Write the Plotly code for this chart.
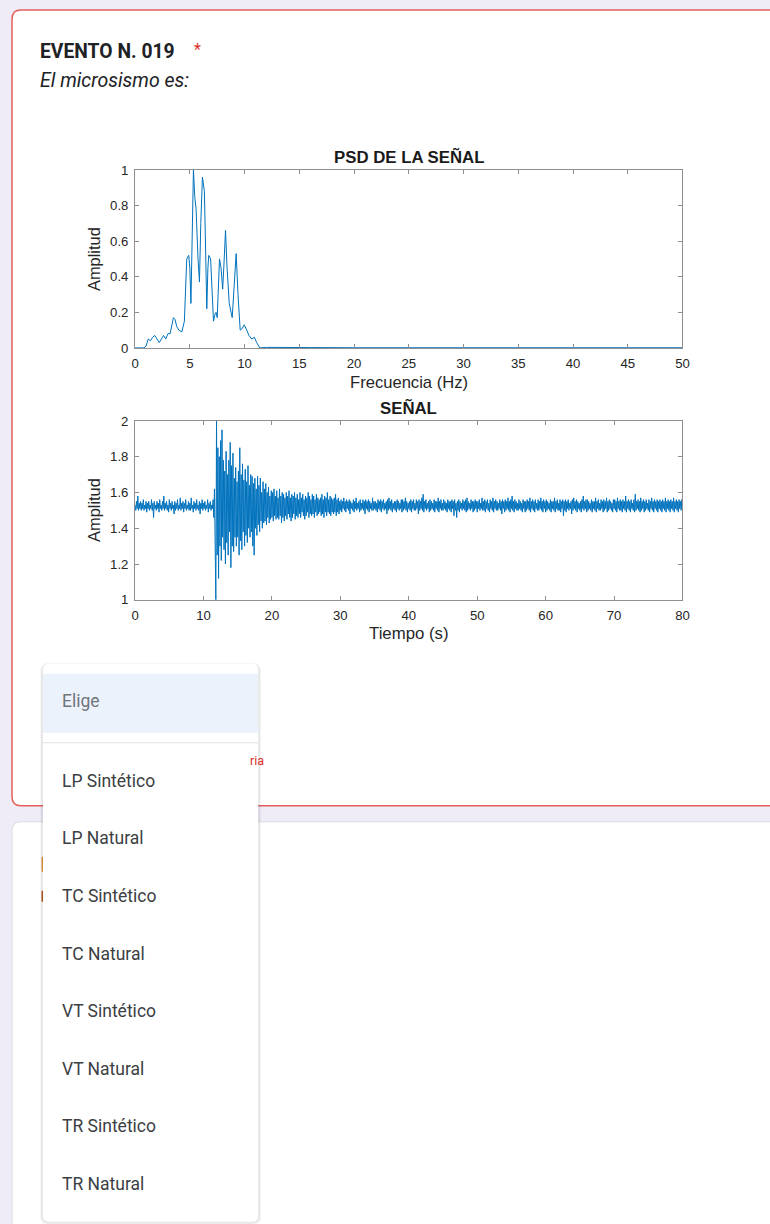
import plotly.graph_objects as go

W, H = 770, 1224

# ---------------- data ----------------
psd_freq = [0.0, 0.8, 1.0, 1.2, 1.4, 1.6, 1.8, 2.0, 2.2, 2.4, 2.6, 2.8, 3.0, 3.2, 3.35, 3.5, 3.65, 3.8,
            4.0, 4.27, 4.5, 4.72, 4.9, 5.0, 5.1, 5.2, 5.33, 5.45, 5.57, 5.75, 5.88, 6.0, 6.15, 6.33,
            6.45, 6.55, 6.65, 6.73, 6.9, 7.05, 7.16, 7.3, 7.4, 7.5, 7.6, 7.71, 7.85, 8.0, 8.1, 8.26,
            8.4, 8.6, 8.87, 9.05, 9.23, 9.4, 9.6, 9.8, 9.97, 10.2, 10.4, 10.66, 10.9, 11.1, 11.4,
            12.0, 13.0, 15.0, 16.0, 20.0, 25.0, 30.0, 40.0, 50.0]
psd_amp = [0.0, 0.0, 0.01, 0.05, 0.04, 0.06, 0.07, 0.05, 0.03, 0.05, 0.07, 0.05, 0.08, 0.08, 0.12, 0.17, 0.16, 0.12,
           0.10, 0.09, 0.15, 0.50, 0.52, 0.45, 0.25, 0.70, 1.00, 0.85, 0.78, 0.50, 0.37, 0.70, 0.96, 0.88,
           0.45, 0.22, 0.45, 0.52, 0.50, 0.25, 0.15, 0.19, 0.20, 0.17, 0.35, 0.50, 0.45, 0.33, 0.45, 0.66,
           0.45, 0.25, 0.17, 0.35, 0.53, 0.30, 0.10, 0.11, 0.13, 0.10, 0.07, 0.05, 0.06, 0.03, 0.0,
           0.003, 0.002, 0.003, 0.002, 0.001, 0.001, 0.001, 0.001, 0.001]

sample_step = 0.1  # seconds between samples of the trace below (one row = 1 s)
signal_amp = [
    1.53, 1.50, 1.55, 1.51, 1.58, 1.50, 1.54, 1.51, 1.55, 1.50,
    1.54, 1.51, 1.56, 1.50, 1.53, 1.51, 1.55, 1.49, 1.54, 1.51,
    1.55, 1.50, 1.53, 1.51, 1.56, 1.50, 1.54, 1.46, 1.55, 1.51,
    1.53, 1.50, 1.55, 1.51, 1.54, 1.49, 1.56, 1.51, 1.53, 1.50,
    1.55, 1.51, 1.58, 1.50, 1.54, 1.51, 1.55, 1.50, 1.53, 1.49,
    1.56, 1.51, 1.54, 1.50, 1.55, 1.51, 1.53, 1.48, 1.55, 1.50,
    1.54, 1.51, 1.56, 1.50, 1.53, 1.51, 1.57, 1.50, 1.54, 1.51,
    1.55, 1.49, 1.54, 1.51, 1.56, 1.50, 1.53, 1.51, 1.55, 1.50,
    1.54, 1.50, 1.57, 1.51, 1.53, 1.49, 1.55, 1.51, 1.54, 1.50,
    1.56, 1.51, 1.53, 1.50, 1.55, 1.48, 1.54, 1.51, 1.56, 1.50,
    1.54, 1.51, 1.55, 1.50, 1.53, 1.51, 1.56, 1.49, 1.54, 1.51,
    1.55, 1.50, 1.53, 1.51, 1.56, 1.46, 1.62, 1.38, 1.00, 2.00,
    1.25, 1.85, 1.12, 1.80, 1.30, 1.89, 1.22, 1.95, 1.35, 1.78,
    1.28, 1.72, 1.20, 1.83, 1.32, 1.70, 1.25, 1.78, 1.38, 1.88,
    1.18, 1.75, 1.30, 1.82, 1.27, 1.68, 1.35, 1.74, 1.30, 1.66,
    1.35, 1.72, 1.25, 1.85, 1.33, 1.70, 1.28, 1.76, 1.38, 1.67,
    1.30, 1.73, 1.36, 1.66, 1.32, 1.75, 1.40, 1.64, 1.35, 1.70,
    1.38, 1.69, 1.30, 1.65, 1.25, 1.68, 1.40, 1.62, 1.36, 1.69,
    1.42, 1.64, 1.38, 1.68, 1.44, 1.60, 1.40, 1.66, 1.43, 1.62,
    1.44, 1.65, 1.42, 1.60, 1.46, 1.63, 1.43, 1.58, 1.45, 1.61,
    1.46, 1.60, 1.44, 1.62, 1.47, 1.58, 1.45, 1.61, 1.46, 1.57,
    1.45, 1.62, 1.47, 1.58, 1.43, 1.60, 1.46, 1.59, 1.44, 1.57,
    1.47, 1.60, 1.45, 1.58, 1.48, 1.61, 1.46, 1.57, 1.44, 1.59,
    1.46, 1.58, 1.48, 1.60, 1.45, 1.57, 1.47, 1.59, 1.46, 1.56,
    1.48, 1.60, 1.46, 1.57, 1.49, 1.59, 1.47, 1.56, 1.45, 1.58,
    1.47, 1.57, 1.49, 1.60, 1.46, 1.58, 1.48, 1.56, 1.47, 1.59,
    1.48, 1.58, 1.46, 1.56, 1.49, 1.59, 1.47, 1.57, 1.48, 1.56,
    1.49, 1.57, 1.47, 1.59, 1.48, 1.56, 1.46, 1.58, 1.49, 1.57,
    1.47, 1.60, 1.49, 1.56, 1.48, 1.58, 1.47, 1.57, 1.49, 1.56,
    1.48, 1.57, 1.49, 1.59, 1.47, 1.56, 1.49, 1.57, 1.48, 1.55,
    1.50, 1.56, 1.49, 1.55, 1.51, 1.57, 1.50, 1.55, 1.49, 1.56,
    1.51, 1.55, 1.50, 1.56, 1.48, 1.55, 1.51, 1.54, 1.50, 1.56,
    1.49, 1.55, 1.51, 1.57, 1.50, 1.54, 1.51, 1.55, 1.49, 1.56,
    1.50, 1.54, 1.51, 1.56, 1.50, 1.55, 1.48, 1.56, 1.51, 1.55,
    1.50, 1.56, 1.49, 1.55, 1.51, 1.54, 1.50, 1.57, 1.50, 1.55,
    1.51, 1.55, 1.50, 1.54, 1.49, 1.56, 1.51, 1.55, 1.50, 1.56,
    1.49, 1.55, 1.51, 1.56, 1.50, 1.54, 1.51, 1.55, 1.48, 1.56,
    1.50, 1.57, 1.51, 1.55, 1.50, 1.56, 1.49, 1.54, 1.51, 1.55,
    1.50, 1.55, 1.49, 1.56, 1.51, 1.55, 1.50, 1.54, 1.51, 1.56,
    1.49, 1.56, 1.50, 1.55, 1.51, 1.57, 1.50, 1.55, 1.49, 1.54,
    1.51, 1.55, 1.50, 1.56, 1.49, 1.55, 1.51, 1.56, 1.50, 1.54,
    1.50, 1.56, 1.51, 1.55, 1.48, 1.56, 1.50, 1.55, 1.51, 1.57,
    1.50, 1.59, 1.49, 1.55, 1.51, 1.56, 1.50, 1.54, 1.51, 1.55,
    1.49, 1.56, 1.50, 1.55, 1.51, 1.54, 1.50, 1.56, 1.49, 1.55,
    1.51, 1.55, 1.50, 1.57, 1.49, 1.55, 1.51, 1.56, 1.50, 1.54,
    1.50, 1.56, 1.51, 1.55, 1.50, 1.54, 1.49, 1.56, 1.51, 1.55,
    1.50, 1.55, 1.49, 1.56, 1.51, 1.55, 1.47, 1.56, 1.50, 1.54,
    1.46, 1.55, 1.50, 1.56, 1.49, 1.55, 1.51, 1.54, 1.50, 1.56,
    1.51, 1.55, 1.50, 1.56, 1.49, 1.57, 1.50, 1.55, 1.51, 1.54,
    1.50, 1.56, 1.51, 1.55, 1.49, 1.55, 1.50, 1.56, 1.51, 1.55,
    1.49, 1.55, 1.51, 1.56, 1.50, 1.54, 1.51, 1.57, 1.50, 1.55,
    1.50, 1.56, 1.49, 1.55, 1.51, 1.56, 1.50, 1.54, 1.49, 1.56,
    1.51, 1.55, 1.50, 1.57, 1.49, 1.55, 1.51, 1.56, 1.50, 1.55,
    1.50, 1.54, 1.51, 1.56, 1.50, 1.55, 1.48, 1.56, 1.51, 1.55,
    1.49, 1.56, 1.50, 1.55, 1.51, 1.57, 1.50, 1.55, 1.49, 1.56,
    1.51, 1.58, 1.50, 1.55, 1.49, 1.56, 1.51, 1.55, 1.50, 1.54,
    1.50, 1.56, 1.51, 1.55, 1.50, 1.54, 1.49, 1.56, 1.51, 1.55,
    1.49, 1.55, 1.50, 1.56, 1.51, 1.55, 1.50, 1.57, 1.49, 1.55,
    1.51, 1.56, 1.50, 1.55, 1.49, 1.56, 1.51, 1.54, 1.50, 1.56,
    1.50, 1.55, 1.51, 1.57, 1.50, 1.55, 1.49, 1.56, 1.51, 1.55,
    1.49, 1.56, 1.50, 1.55, 1.51, 1.54, 1.50, 1.56, 1.49, 1.55,
    1.51, 1.55, 1.50, 1.57, 1.49, 1.55, 1.51, 1.56, 1.50, 1.54,
    1.50, 1.56, 1.49, 1.55, 1.51, 1.56, 1.47, 1.55, 1.50, 1.56,
    1.49, 1.55, 1.51, 1.56, 1.50, 1.54, 1.51, 1.55, 1.48, 1.56,
    1.50, 1.57, 1.51, 1.55, 1.50, 1.56, 1.49, 1.55, 1.51, 1.54,
    1.50, 1.55, 1.49, 1.56, 1.51, 1.58, 1.50, 1.55, 1.51, 1.56,
    1.49, 1.56, 1.50, 1.55, 1.51, 1.54, 1.50, 1.56, 1.49, 1.55,
    1.51, 1.55, 1.50, 1.57, 1.49, 1.55, 1.51, 1.56, 1.50, 1.54,
    1.50, 1.56, 1.51, 1.55, 1.49, 1.56, 1.50, 1.55, 1.51, 1.57,
    1.49, 1.55, 1.50, 1.56, 1.51, 1.55, 1.50, 1.54, 1.49, 1.56,
    1.51, 1.56, 1.50, 1.55, 1.49, 1.57, 1.51, 1.55, 1.50, 1.56,
    1.50, 1.55, 1.49, 1.56, 1.51, 1.55, 1.50, 1.58, 1.49, 1.55,
    1.51, 1.56, 1.50, 1.55, 1.49, 1.56, 1.51, 1.54, 1.50, 1.56,
    1.49, 1.59, 1.50, 1.55, 1.51, 1.56, 1.50, 1.55, 1.49, 1.57,
    1.50, 1.55, 1.51, 1.56, 1.49, 1.55, 1.50, 1.56, 1.51, 1.54,
    1.50, 1.56, 1.49, 1.55, 1.51, 1.57, 1.50, 1.55, 1.49, 1.56,
    1.51, 1.55, 1.50, 1.56, 1.49, 1.55, 1.51, 1.56, 1.50, 1.55,
    1.49, 1.56, 1.51, 1.55, 1.50, 1.57, 1.49, 1.55, 1.51, 1.56,
    1.50, 1.55, 1.49, 1.56, 1.51, 1.55, 1.50, 1.57, 1.49, 1.55,
    1.51, 1.56, 1.50, 1.55, 1.49, 1.56, 1.51, 1.55, 1.50, 1.56,
    1.52,
]
signal_time = [i * sample_step for i in range(len(signal_amp))]

psd_xticks = list(range(0, 55, 5))
psd_yticks = [0, 0.2, 0.4, 0.6, 0.8, 1]
sig_xticks = list(range(0, 90, 10))
sig_yticks = [1, 1.2, 1.4, 1.6, 1.8, 2]

heading = "EVENTO N. 019"
question = "El microsismo es:"
placeholder = "Elige"
options = ["LP Sintético", "LP Natural", "TC Sintético", "TC Natural",
           "VT Sintético", "VT Natural", "TR Sintético", "TR Natural"]

# ---------------- helpers (page pixel -> paper fraction) ----------------
SX, BX = 0.985, 4.0
SY, BY = 0.988, 7.0

def px(x):
    return ((x - BX) / SX) / W

def py(y):
    return 1 - ((y - BY) / SY) / H

def rrect_path(x0, y0, x1, y1, r):
    pts = [("M", x0 + r, y0), ("L", x1 - r, y0), ("Q", x1, y0, x1, y0 + r),
           ("L", x1, y1 - r), ("Q", x1, y1, x1 - r, y1), ("L", x0 + r, y1),
           ("Q", x0, y1, x0, y1 - r), ("L", x0, y0 + r), ("Q", x0, y0, x0 + r, y0)]
    s = ""
    for p in pts:
        coords = p[1:]
        parts = [f"{px(coords[i]):.5f},{py(coords[i + 1]):.5f}" for i in range(0, len(coords), 2)]
        s += p[0] + " " + " ".join(parts) + " "
    return s + "Z"

shapes = []
def add_rr(x0, y0, x1, y1, r, fill, line=None, lw=0):
    shapes.append(dict(type="path", xref="paper", yref="paper", layer="below",
                       path=rrect_path(x0, y0, x1, y1, r), fillcolor=fill,
                       line=dict(color=line if line else "rgba(0,0,0,0)", width=lw)))

def add_rect(x0, y0, x1, y1, fill):
    shapes.append(dict(type="rect", xref="paper", yref="paper", layer="below",
                       x0=px(x0), x1=px(x1), y0=py(y1), y1=py(y0), fillcolor=fill,
                       line=dict(width=0)))

annotations = []
def add_text(x, y, text, size, color, family="Roboto", xanchor="left", angle=0):
    annotations.append(dict(xref="paper", yref="paper", x=px(x), y=py(y), text=text,
                            showarrow=False, xanchor=xanchor, yanchor="middle",
                            textangle=angle, font=dict(size=size, color=color, family=family)))

# ---------------- page ----------------
add_rect(-20, -20, 800, 1250, "#efebf7")                         # page background
add_rr(12, 10, 800, 806, 9, "white", "#e4605c", 1.5)            # question card (error state)
add_rr(12, 822, 800, 1270, 9, "white", "#dadce0", 1)            # next card
add_rect(41.5, 857, 43, 872, "#e59a3c")                          # glyph fragments peeking
add_rect(41.5, 891, 43, 902, "#b8561e")

# dropdown shadow and body
add_rr(40, 663, 261, 1226, 9, "rgba(0,0,0,0.035)")
add_rr(41, 664, 260, 1224, 8, "rgba(0,0,0,0.06)")
add_rr(43, 664, 258, 1222, 6, "white")
add_rect(43, 674, 258, 733, "#ecf2fc")
add_rect(43, 742.5, 258, 743.5, "#e0e0e0")

add_text(38, 52, "<b>" + heading + "</b>", 19.3, "#202124")
add_text(192, 50, "*", 16, "#d93025")
add_text(38, 81, "<i>" + question + "</i>", 19.5, "#202124")
add_text(248, 761, "ria", 12.5, "#d93025")
add_text(60, 701, placeholder, 17.5, "#70757a")
for i, opt in enumerate(options):
    add_text(60, 781 + i * 57.6, opt, 17.5, "#3c4043")

# ---------------- charts ----------------
cfam = "Liberation Sans"
tcol = "#262626"
add_text(408.5, 157, "<b>PSD DE LA SEÑAL</b>", 16.8, "#1a1a1a", cfam, "center")
add_text(408.5, 383, "Frecuencia (Hz)", 16.6, tcol, cfam, "center")
add_text(94, 259, "Amplitud", 16.4, tcol, cfam, "center", -90)
add_text(408.5, 408, "<b>SEÑAL</b>", 16.8, "#1a1a1a", cfam, "center")
add_text(408.5, 634, "Tiempo (s)", 16.8, tcol, cfam, "center")
add_text(94, 510, "Amplitud", 16.4, tcol, cfam, "center", -90)

fig = go.Figure()
fig.add_trace(go.Scatter(x=psd_freq, y=psd_amp, mode="lines", xaxis="x", yaxis="y",
                         line=dict(color="#0072BD", width=1), hoverinfo="skip"))
fig.add_trace(go.Scatter(x=signal_time, y=signal_amp, mode="lines", xaxis="x2", yaxis="y2",
                         line=dict(color="#0072BD", width=1), hoverinfo="skip"))

axis_common = dict(showgrid=False, zeroline=False, showline=True, linecolor="#8f8f8f",
                   linewidth=1, mirror="ticks", ticks="inside", ticklen=4, tickcolor="#8f8f8f",
                   tickfont=dict(family=cfam, size=13.2, color=tcol), fixedrange=True)

fig.update_layout(
    width=W, height=H, autosize=False,
    margin=dict(l=0, r=0, t=0, b=0),
    paper_bgcolor="#efebf7", plot_bgcolor="rgba(0,0,0,0)",
    showlegend=False,
    shapes=shapes, annotations=annotations,
    xaxis=dict(domain=[px(135), px(682)], range=[0, 50], tickvals=psd_xticks,
               anchor="y", ticklabelstandoff=3, **axis_common),
    yaxis=dict(domain=[py(348), py(170)], range=[0, 1], tickvals=psd_yticks,
               anchor="x", ticklabelstandoff=3, **axis_common),
    xaxis2=dict(domain=[px(135), px(682)], range=[0, 80], tickvals=sig_xticks,
                anchor="y2", ticklabelstandoff=3, **axis_common),
    yaxis2=dict(domain=[py(600), py(421)], range=[1, 2], tickvals=sig_yticks,
                anchor="x2", ticklabelstandoff=3, **axis_common),
)

fig.write_html(
    "out.html",
    config={"displayModeBar": False, "staticPlot": True},
    post_script=(
        "var d=document.getElementById('{plot_id}');"
        "d.style.position='fixed';d.style.left='0px';d.style.top='0px';"
        "document.documentElement.style.margin='0';document.body.style.margin='0';"
        "document.documentElement.style.background='#efebf7';"
        "document.body.style.background='#efebf7';"
    ),
)
